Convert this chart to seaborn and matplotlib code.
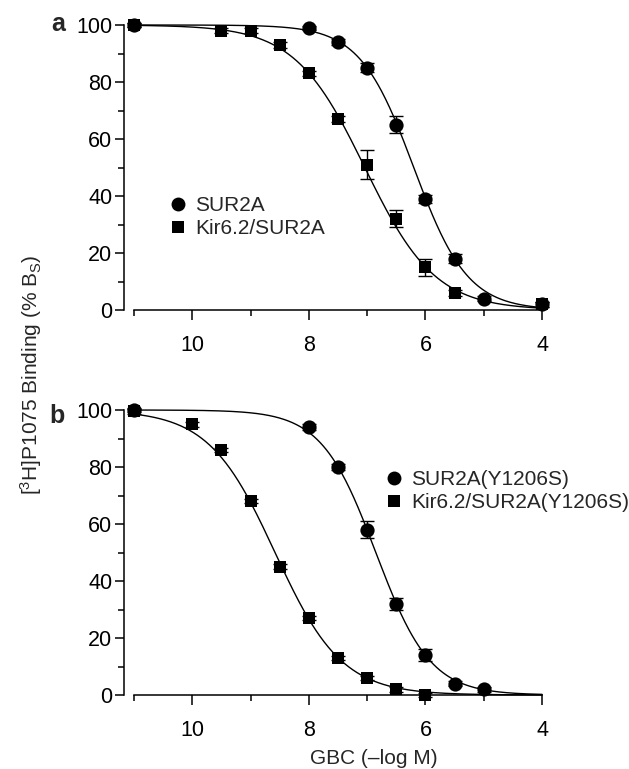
import numpy as np
import pandas as pd
import matplotlib
matplotlib.use("Agg")
import matplotlib.pyplot as plt
import seaborn as sns

# ---------------- data ----------------
# panel a
a_sur_x = [11, 8, 7.5, 7, 6.5, 6, 5.5, 5, 4]
a_sur_y = [100, 99, 94, 85, 65, 39, 18, 4, 2]
a_sur_err = [0.8, 0.8, 1.0, 1.5, 3.0, 1.5, 1.5, 1.0, 0.8]

a_kir_x = [11, 9.5, 9, 8.5, 8, 7.5, 7, 6.5, 6, 5.5, 4]
a_kir_y = [100, 98, 98, 93, 83, 67, 51, 32, 15, 6, 2]
a_kir_err = [0.8, 0.8, 0.8, 1.0, 1.0, 1.0, 5.0, 3.0, 3.0, 1.0, 0.8]

# panel b
b_sur_x = [11, 8, 7.5, 7, 6.5, 6, 5.5, 5]
b_sur_y = [100, 94, 80, 58, 32, 14, 4, 2]
b_sur_err = [0.8, 1.0, 1.0, 3.0, 2.0, 2.0, 1.0, 0.8]

b_kir_x = [11, 10, 9.5, 9, 8.5, 8, 7.5, 7, 6.5, 6]
b_kir_y = [99.5, 95, 86, 68, 45, 27, 13, 6, 2, 0]
b_kir_err = [0.8, 0.8, 0.8, 0.8, 0.8, 0.8, 0.8, 0.8, 0.8, 0.8]

# fitted Hill parameters (pIC50, Hill coefficient)
a_sur_fit = (6.20, 0.94)
a_kir_fit = (7.04, 0.72)
b_sur_fit = (6.85, 0.93)
b_kir_fit = (8.58, 0.76)

labels_a = ["SUR2A", "Kir6.2/SUR2A"]
labels_b = ["SUR2A(Y1206S)", "Kir6.2/SUR2A(Y1206S)"]
x_major = [10, 8, 6, 4]
x_minor = [11, 9, 7, 5]
y_major = [0, 20, 40, 60, 80, 100]
y_minor = [10, 30, 50, 70, 90]

# ---------------- style ----------------
sns.set_theme(style="ticks")
plt.rcParams["font.family"] = ["Liberation Sans", "DejaVu Sans"]
plt.rcParams["mathtext.fontset"] = "custom"
plt.rcParams["mathtext.rm"] = "Liberation Sans"
plt.rcParams["mathtext.it"] = "Liberation Sans:italic"
plt.rcParams["mathtext.bf"] = "Liberation Sans:bold"

W, H = 629, 769
fig = plt.figure(figsize=(W / 100, H / 100), dpi=100)
fig.patch.set_facecolor("white")

XL, XR = 11.18, 3.92
FS = 15
TFS = 15.5


def hill(x, p, n):
    x = np.asarray(x, dtype=float)
    return 100.0 / (1.0 + 10 ** (n * (p - x)))


def make_axes(bottom_px, top_px):
    left_px = 123.5
    right_px = 542 + (4 - XR) * 58.3
    return fig.add_axes([left_px / W, 1 - bottom_px / H,
                         (right_px - left_px) / W, (bottom_px - top_px) / H])


def draw_panel(ax, series, labels, legend_xy):
    xs_curve = np.linspace(11, 4, 400)
    markers = ["o", "s"]
    sizes = [105, 85]
    handles = []
    for (x, y, e, fit), lab, m, s in zip(series, labels, markers, sizes):
        df = pd.DataFrame({"x": xs_curve, "y": hill(xs_curve, *fit)})
        sns.lineplot(data=df, x="x", y="y", ax=ax, color="black", lw=1.0,
                     clip_on=False, zorder=2)
        ax.errorbar(x, y, yerr=e, fmt="none", ecolor="black", elinewidth=1.0,
                    capsize=4.7, capthick=1.0, clip_on=False, zorder=3)
        pts = pd.DataFrame({"x": x, "y": y})
        sns.scatterplot(data=pts, x="x", y="y", ax=ax, marker=m, s=s,
                        color="black", edgecolor="black", linewidth=0,
                        clip_on=False, zorder=4)
        handles.append(plt.Line2D([], [], ls="none", marker=m, color="black",
                                  markersize=10 if m == "o" else 9,
                                  markeredgewidth=0))
    ax.set_xlim(XL, XR)
    ax.set_ylim(0, 100)
    ax.set_xticks(x_major)
    ax.set_xticks(x_minor, minor=True)
    ax.set_yticks(y_major)
    ax.set_yticks(y_minor, minor=True)
    ax.set_xticklabels([str(v) for v in x_major])
    ax.set_yticklabels([str(v) for v in y_major])
    ax.set_xlabel("")
    ax.set_ylabel("")
    for sp in ["top", "right"]:
        ax.spines[sp].set_visible(False)
    ax.spines["left"].set_bounds(0, 100)
    ax.spines["bottom"].set_bounds(11, 4)
    for sp in ["left", "bottom"]:
        ax.spines[sp].set_linewidth(1.1)
        ax.spines[sp].set_color("black")
    ax.tick_params(axis="y", which="major", length=6.5, width=1.1, pad=1.5,
                   labelsize=TFS, direction="out", colors="black")
    ax.tick_params(axis="y", which="minor", length=4.0, width=1.1,
                   direction="out", colors="black")
    ax.tick_params(axis="x", which="major", length=7.0, width=1.1, pad=11,
                   labelsize=TFS, direction="out", colors="black")
    ax.tick_params(axis="x", which="minor", length=4.5, width=1.1,
                   direction="out", colors="black")
    ax.set_facecolor("none")
    leg = ax.legend(handles, labels, loc="center left",
                    bbox_to_anchor=(legend_xy[0] / W, 1 - legend_xy[1] / H),
                    bbox_transform=fig.transFigure, frameon=False,
                    borderpad=0, borderaxespad=0, handlelength=0.95,
                    handletextpad=0.35, labelspacing=0.2, fontsize=FS)
    return leg


ax_a = make_axes(310, 25)
draw_panel(ax_a,
           [(a_sur_x, a_sur_y, a_sur_err, a_sur_fit),
            (a_kir_x, a_kir_y, a_kir_err, a_kir_fit)],
           labels_a, (168, 217))

ax_b = make_axes(695, 410)
draw_panel(ax_b,
           [(b_sur_x, b_sur_y, b_sur_err, b_sur_fit),
            (b_kir_x, b_kir_y, b_kir_err, b_kir_fit)],
           labels_b, (384, 491))

# panel letters
fig.text(65 / W, 1 - 31 / H, "a", fontsize=18, fontweight="bold",
         ha="right", va="baseline")
fig.text(65 / W, 1 - 423 / H, "b", fontsize=18, fontweight="bold",
         ha="right", va="baseline")

# axis titles
fig.text(31 / W, 1 - 375 / H, r"[$^{3}$H]P1075 Binding (% B$_{\mathrm{S}}$)",
         rotation=90, ha="center", va="center", fontsize=FS)
fig.text(374 / W, 1 - 759 / H, "GBC (\u2013log M)", ha="center",
         va="center", fontsize=FS)

fig.savefig("out.png", dpi=100, facecolor="white")
